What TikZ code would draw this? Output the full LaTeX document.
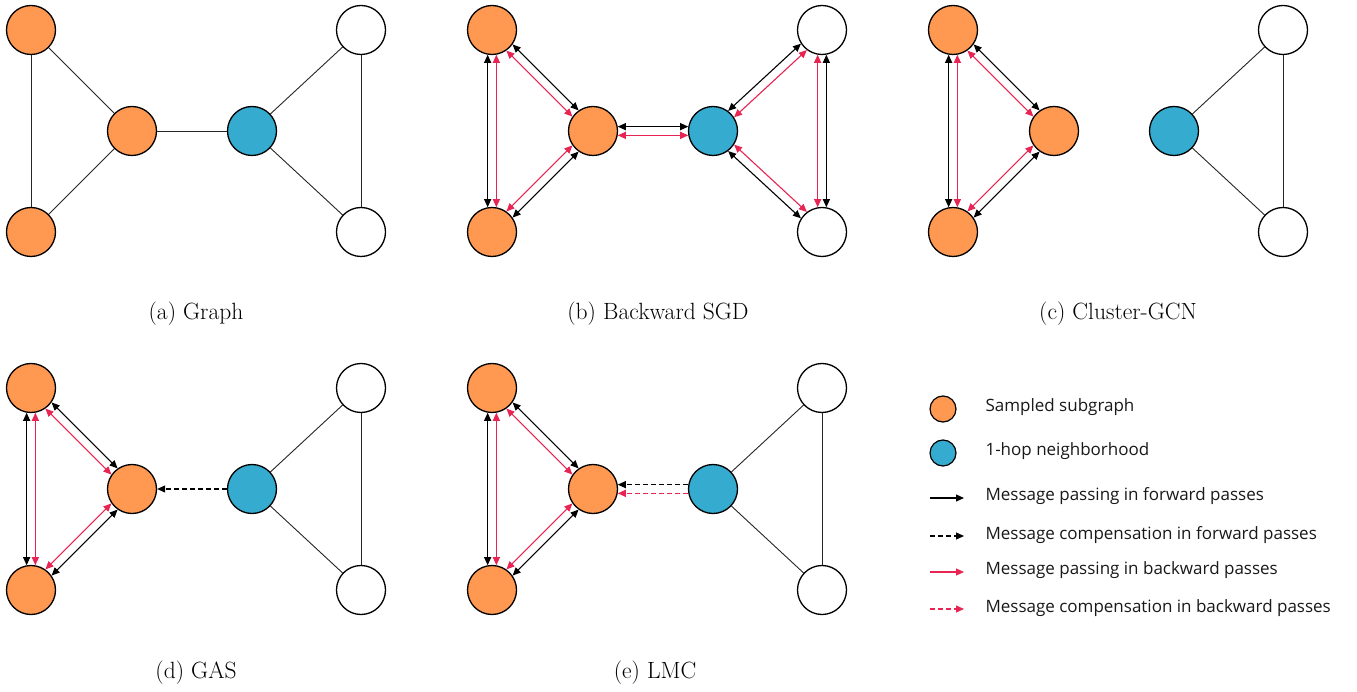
\documentclass[tikz,border=0pt]{standalone}
\usepackage{fontspec}
\newfontfamily\legfont{Open Sans}
\usetikzlibrary{arrows.meta,calc}
\definecolor{nodeorange}{RGB}{255,153,82}
\definecolor{nodeblue}{RGB}{54,171,208}
\definecolor{msgred}{RGB}{232,36,82}
\tikzset{
  vtx/.style={circle, draw=black, line width=1.3pt, minimum size=49pt, inner sep=0pt},
  orangevtx/.style={vtx, fill=nodeorange},
  bluevtx/.style={vtx, fill=nodeblue},
  whitevtx/.style={vtx, fill=white},
  plainedge/.style={draw=black!85, line width=0.9pt},
  fwd/.style={draw=black, line width=1.1pt, arrows={Triangle[length=8pt,width=7pt]-Triangle[length=8pt,width=7pt]}},
  bwd/.style={draw=msgred, line width=1.1pt, arrows={Triangle[length=8pt,width=7pt]-Triangle[length=8pt,width=7pt]}},
  fwdone/.style={draw=black, line width=1.1pt, arrows={-Triangle[length=8pt,width=7pt]}},
  bwdone/.style={draw=msgred, line width=1.1pt, arrows={-Triangle[length=8pt,width=7pt]}},
  compdash/.style={dash pattern=on 5pt off 3pt},
  caption/.style={anchor=base, font=\fontsize{23.5}{28}\selectfont},
  legtext/.style={anchor=mid west, font=\legfont\fontsize{17}{20}\selectfont, text=black!90},
  legvtx/.style={circle, draw=black, line width=1.2pt, minimum size=26pt, inner sep=0pt}
}
\newcommand\mkpanel[3]{%
  \node[orangevtx] (#1tl) at (#2+31,-#3-30) {};
  \node[orangevtx] (#1bl) at (#2+31,-#3-232) {};
  \node[orangevtx] (#1c)  at (#2+132,-#3-131) {};
  \node[bluevtx]   (#1b)  at (#2+252,-#3-131) {};
  \node[whitevtx]  (#1tr) at (#2+361,-#3-30) {};
  \node[whitevtx]  (#1br) at (#2+361,-#3-232) {};
}
\newcommand\msgpair[4]{%
  \pgfmathtruncatemacro\angAf{#3+#4}%
  \pgfmathtruncatemacro\angBf{#3+180-#4}%
  \pgfmathtruncatemacro\angAb{#3-#4}%
  \pgfmathtruncatemacro\angBb{#3+180+#4}%
  \draw[fwd] (#1.\angAf) -- (#2.\angBf);
  \draw[bwd] (#1.\angAb) -- (#2.\angBb);
}
\newcommand\lefttri[1]{%
  \msgpair{#1tl}{#1bl}{-90}{-10}
  \msgpair{#1tl}{#1c}{-45}{10}
  \msgpair{#1bl}{#1c}{45}{-10}
}
\newcommand\rightplain[1]{%
  \draw[plainedge] (#1b) -- (#1tr);
  \draw[plainedge] (#1b) -- (#1br);
  \draw[plainedge] (#1tr) -- (#1br);
}
\begin{document}
\begin{tikzpicture}[x=1pt,y=1pt]
\useasboundingbox (0,0) rectangle (1357,-692);
\fill[white] (0,0) rectangle (1357,-692);

% (a) Graph
\mkpanel{a}{0}{0}
\draw[plainedge] (atl) -- (abl);
\draw[plainedge] (atl) -- (ac);
\draw[plainedge] (abl) -- (ac);
\draw[plainedge] (ac) -- (ab);
\rightplain{a}
\node[caption] (capa) at (196,-320) {(a) Graph};

% (b) Backward SGD
\mkpanel{b}{461}{0}
\lefttri{b}
\msgpair{bc}{bb}{0}{10}
\msgpair{bb}{btr}{43}{10}
\msgpair{bb}{bbr}{-43}{-10}
\msgpair{btr}{bbr}{-90}{10}
\node[caption] (capb) at (658,-320) {(b) Backward SGD};

% (c) Cluster-GCN
\mkpanel{c}{922}{0}
\lefttri{c}
\rightplain{c}
\node[caption] (capc) at (1118,-320) {(c) Cluster-GCN};

% (d) GAS
\mkpanel{d}{0}{358}
\lefttri{d}
\draw[fwdone, compdash] (db) -- (dc);
\rightplain{d}
\node[caption] (capd) at (196,-678) {(d) GAS};

% (e) LMC
\mkpanel{e}{461}{358}
\lefttri{e}
\draw[fwdone, compdash] (eb.170) -- (ec.10);
\draw[bwdone, compdash] (eb.190) -- (ec.-10);
\rightplain{e}
\node[caption] (cape) at (655,-678) {(e) LMC};

% Legend
\node[legvtx, fill=nodeorange] (lo) at (943,-409) {};
\node[legvtx, fill=nodeblue] (lb) at (943,-453) {};
\node[legtext] (t1) at (982,-409) {Sampled subgraph};
\node[legtext] (t2) at (982,-453) {1-hop neighborhood};
\coordinate (l3a) at (930,-498); \coordinate (l3b) at (964,-498);
\coordinate (l4a) at (930,-536); \coordinate (l4b) at (964,-536);
\coordinate (l5a) at (930,-572); \coordinate (l5b) at (964,-572);
\coordinate (l6a) at (930,-609); \coordinate (l6b) at (964,-609);
\draw[fwdone] (l3a) -- (l3b);
\draw[fwdone, compdash] (l4a) -- (l4b);
\draw[bwdone] (l5a) -- (l5b);
\draw[bwdone, compdash] (l6a) -- (l6b);
\node[legtext] (t3) at (982,-498) {Message passing in forward passes};
\node[legtext] (t4) at (982,-537) {Message compensation in forward passes};
\node[legtext] (t5) at (982,-572) {Message passing in backward passes};
\node[legtext] (t6) at (982,-610) {Message compensation in backward passes};
\end{tikzpicture}
\end{document}
